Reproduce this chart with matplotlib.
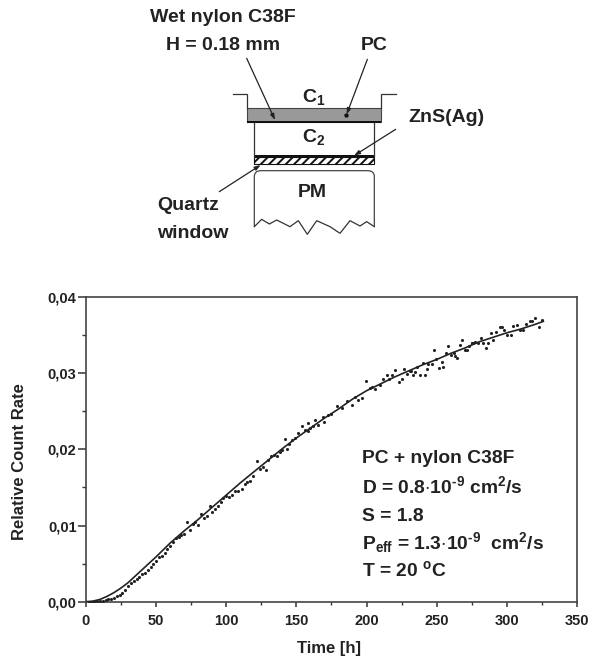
import matplotlib
matplotlib.use("Agg")
import matplotlib.pyplot as plt
from matplotlib.patches import Rectangle, PathPatch
from matplotlib.path import Path
from matplotlib.ticker import MultipleLocator, FuncFormatter

plt.rcParams['font.family'] = ['Liberation Sans', 'DejaVu Sans']
plt.rcParams['font.weight'] = 'bold'
plt.rcParams['mathtext.fontset'] = 'custom'
plt.rcParams['mathtext.bf'] = 'Liberation Sans:bold'
plt.rcParams['mathtext.rm'] = 'Liberation Sans:bold'
plt.rcParams['mathtext.default'] = 'bf'
plt.rcParams['hatch.linewidth'] = 1.4

fit_t = [0, 5, 10, 15, 20, 25, 30, 40, 50, 60, 70, 80, 90, 100, 110, 120, 130, 140, 150, 160, 170, 180,
         190, 200, 210, 220, 230, 240, 250, 260, 270, 280, 290, 300, 310, 320, 326]
fit_y = [0, .00008, .0003, .0007, .0012, .0018, .0025, .0042, .0059, .0077, .0093, .0108, .0124, .0140,
         .0156, .0171, .0186, .0201, .0215, .0228, .0241, .0253, .0266, .0277, .0286, .0295, .0303, .0311,
         .0318, .0326, .0333, .0341, .0347, .0353, .0358, .0364, .0368]

pts_t = [2, 4, 6, 8, 10, 12, 14, 16, 18, 20,
         22, 24, 26, 28, 30, 32, 34, 36, 38, 40,
         42, 44, 46, 48, 50, 52, 54, 56, 58, 60,
         62, 64, 66, 68, 70, 71.8, 74, 76, 78, 80,
         81.8, 84, 86, 88.4, 90, 92, 94, 96, 98, 100,
         102, 104, 106, 108.6, 111, 113, 115, 117, 119, 121.7,
         124, 126, 128.3, 130, 132, 134, 136.4, 138, 140, 141.9,
         143.5, 145, 147, 149, 151, 153.7, 156, 158, 160, 162,
         158.4, 163.2, 165.6, 168.7, 169.6, 172.7, 175, 178.6, 182.2, 185.8,
         189.3, 191.7, 194.1, 196.5, 199.5, 202.4, 206, 209.5, 211.9, 214.7,
         220, 223, 225, 226.6, 228.5, 230.9, 234.5, 233.3, 238, 241.6,
         240, 246.4, 243.3, 249.4, 251.3, 253.5, 254.7, 248.3, 256.6, 258.2,
         259.9, 263, 264.6, 266.5, 268.2, 270, 271.3, 274.9, 277.2, 279.6,
         281.5, 282.7, 285, 286.3, 288.4, 289.8, 292.2, 295, 296.5, 297.9,
         299.8, 302.9, 304.6, 306.9, 309.3, 311.7, 313.4, 316.4, 318.1, 319.8,
         323.1, 324.8,
         204, 216, 218, 232, 236, 244, 262, 273, 275, 276]
pts_y = [0, 0, 0, .0001, .0001, .0001, .0002, .0003, .0004, .0005,
         .0007, .0009, .0012, .0016, .0020, .0024, .0027, .0030, .0033, .0037,
         .0038, .0042, .0045, .0049, .0053, .0059, .0060, .0064, .0069, .0073,
         .0079, .0083, .0085, .0087, .0089, .0105, .0094, .0102, .0104, .0101,
         .0115, .0110, .0112, .0126, .0118, .0122, .0126, .0131, .0136, .0139,
         .0137, .0140, .0145, .0145, .0148, .0155, .0157, .0158, .0165, .0185,
         .0174, .0177, .0173, .0186, .0191, .0193, .0191, .0197, .0199, .0213,
         .0200, .0207, .0212, .0215, .0221, .0230, .0226, .0224, .0228, .0231,
         .0235, .0239, .0232, .0242, .0236, .0245, .0246, .0257, .0254, .0263,
         .0258, .0269, .0265, .0267, .0290, .0281, .0279, .0285, .0293, .0298,
         .0304, .0289, .0292, .0306, .0299, .0303, .0302, .0297, .0297, .0297,
         .0314, .0312, .0306, .0318, .0307, .0315, .0308, .0330, .0327, .0336,
         .0324, .0322, .0320, .0337, .0344, .0330, .0330, .0339, .0341, .0340,
         .0346, .0339, .0333, .0339, .0353, .0344, .0354, .0360, .0361, .0357,
         .0350, .0350, .0362, .0363, .0357, .0357, .0365, .0368, .0368, .0373,
         .0360, .0370,
         .0282, .0293, .0297, .0303, .0308, .0312, .0326, .0336, .0339, .0340]

notes = ["PC + nylon C38F", r"D = 0.8$\cdot$10$^{\text{-9}}$ cm$^{2}$/s", "S = 1.8",
         r"P$_{eff}$ = 1.3$\cdot$10$^{\text{-9}}$  cm$^{2}$/s", r"T = 20 $^{o}$C"]

W, H = 602, 663
fig = plt.figure(figsize=(W / 100, H / 100), dpi=100)
ax = fig.add_axes([86 / W, (H - 601.7) / H, (577 - 86) / W, (601.7 - 297) / H])
ax.set_xlim(0, 350)
ax.set_ylim(0, 0.04)
ax.plot(fit_t, fit_y, color='#222222', lw=1.2, zorder=3)
ax.scatter(pts_t, pts_y, s=5, color='#222222', lw=0, zorder=4)
ax.xaxis.set_major_locator(MultipleLocator(50))
ax.xaxis.set_minor_locator(MultipleLocator(25))
ax.yaxis.set_major_locator(MultipleLocator(0.01))
ax.yaxis.set_minor_locator(MultipleLocator(0.005))
ax.yaxis.set_major_formatter(FuncFormatter(lambda v, p: f"{v:.2f}".replace('.', ',')))
ax.tick_params(axis='x', which='major', length=3.6, width=1.1, color='#333333', labelsize=10.5, pad=5, labelcolor='#222222')
ax.tick_params(axis='x', which='minor', length=2, width=1.0, color='#333333')
ax.tick_params(axis='y', which='major', length=5.8, width=1.1, color='#333333', labelsize=10.5, pad=1, labelcolor='#222222')
ax.tick_params(axis='y', which='minor', length=3, width=1.0, color='#333333')
for s in ax.spines.values():
    s.set_linewidth(1.2)
    s.set_color('#444444')
ax.set_xlabel("Time [h]", fontsize=12, color='#222222', weight='bold', va='center')
ax.xaxis.set_label_coords(0.495, (601.7 - 648) / 304.7)
ax.set_ylabel("Relative Count Rate", fontsize=12, color='#222222', weight='bold', va='center')
ax.yaxis.set_label_coords((19 - 86) / 491, (601.7 - 462) / 304.7)

# schematic and note block in image pixels
ov = fig.add_axes([0, 0, 1, 1], facecolor='none')
ov.set_xlim(0, W)
ov.set_ylim(H, 0)
ov.axis('off')
Z = lambda X, Y: (130 + X / 3, Y / 3)
dark = '#222222'


def zl(pairs, lw=0.9, color='#333333'):
    ov.plot([Z(*p)[0] for p in pairs], [Z(*p)[1] for p in pairs], color=color, lw=lw, solid_joinstyle='miter')


def zrect(x0, y0, x1, y1, **kw):
    a, b = Z(x0, y0)
    c, d = Z(x1, y1)
    ov.add_patch(Rectangle((a, b), c - a, d - b, **kw))


zl([(310, 281), (352, 281), (352, 325)])
zl([(752, 325), (752, 281), (797, 281)])
zrect(352, 323, 752, 365, fc='#999999', ec='#444444', lw=0.8)
zrect(352, 364, 752, 370, fc='#111111', ec='none')
zl([(373, 370), (373, 467)])
zl([(733, 370), (733, 467)])
zrect(373, 466, 733, 472, fc='#111111', ec='none')
zrect(373, 472, 733, 492, fc='white', ec='#111111', lw=0.8, hatch='////')

pm_nodes = [(373, 680), (373, 530), (373, 512), (393, 512), (713, 512), (733, 512), (733, 530), (733, 680)]
pm_codes = [Path.MOVETO, Path.LINETO, Path.CURVE3, Path.CURVE3, Path.LINETO, Path.CURVE3, Path.CURVE3, Path.LINETO]
ov.add_patch(PathPatch(Path([Z(*p) for p in pm_nodes], pm_codes), fc='none', ec='#444444', lw=0.9))
zl([(373, 680), (395, 658), (418, 672), (440, 660), (480, 680), (505, 662), (532, 703), (560, 662),
    (600, 680), (630, 700), (660, 662), (690, 678), (710, 665), (733, 680)])

for (x0, y0), (x1, y1) in [((350, 175), (435, 360)), ((712, 178), (650, 343)),
                           ((797, 388), (672, 467)), ((268, 575), (392, 495))]:
    ov.annotate("", xy=Z(x1, y1), xytext=Z(x0, y0),
                arrowprops=dict(arrowstyle='-|>,head_length=0.35,head_width=0.12', color='#222222', lw=0.9,
                                shrinkA=0, shrinkB=0))
ov.scatter(*Z(648, 345), s=10, color='#111111', lw=0, zorder=5)

for txt, X, Y in [("Wet nylon C38F", 278, 52), ("H = 0.18 mm", 278, 137), ("PC", 733, 137),
                  ("C$_{1}$", 552, 292), ("C$_{2}$", 552, 412), ("ZnS(Ag)", 950, 352),
                  ("PM", 547, 578), ("Quartz", 175, 615), ("window", 187, 700)]:
    x, y = Z(X, Y)
    ov.text(x, y, txt, ha='center', va='center', fontsize=14, color=dark, weight='bold')

for txt, y in zip(notes, [463.3, 492.7, 520.7, 549.3, 576]):
    ov.text(361.5, y, txt, ha='left', va='baseline', fontsize=13.9, color=dark, weight='bold')

fig.savefig("out.png", dpi=100)
